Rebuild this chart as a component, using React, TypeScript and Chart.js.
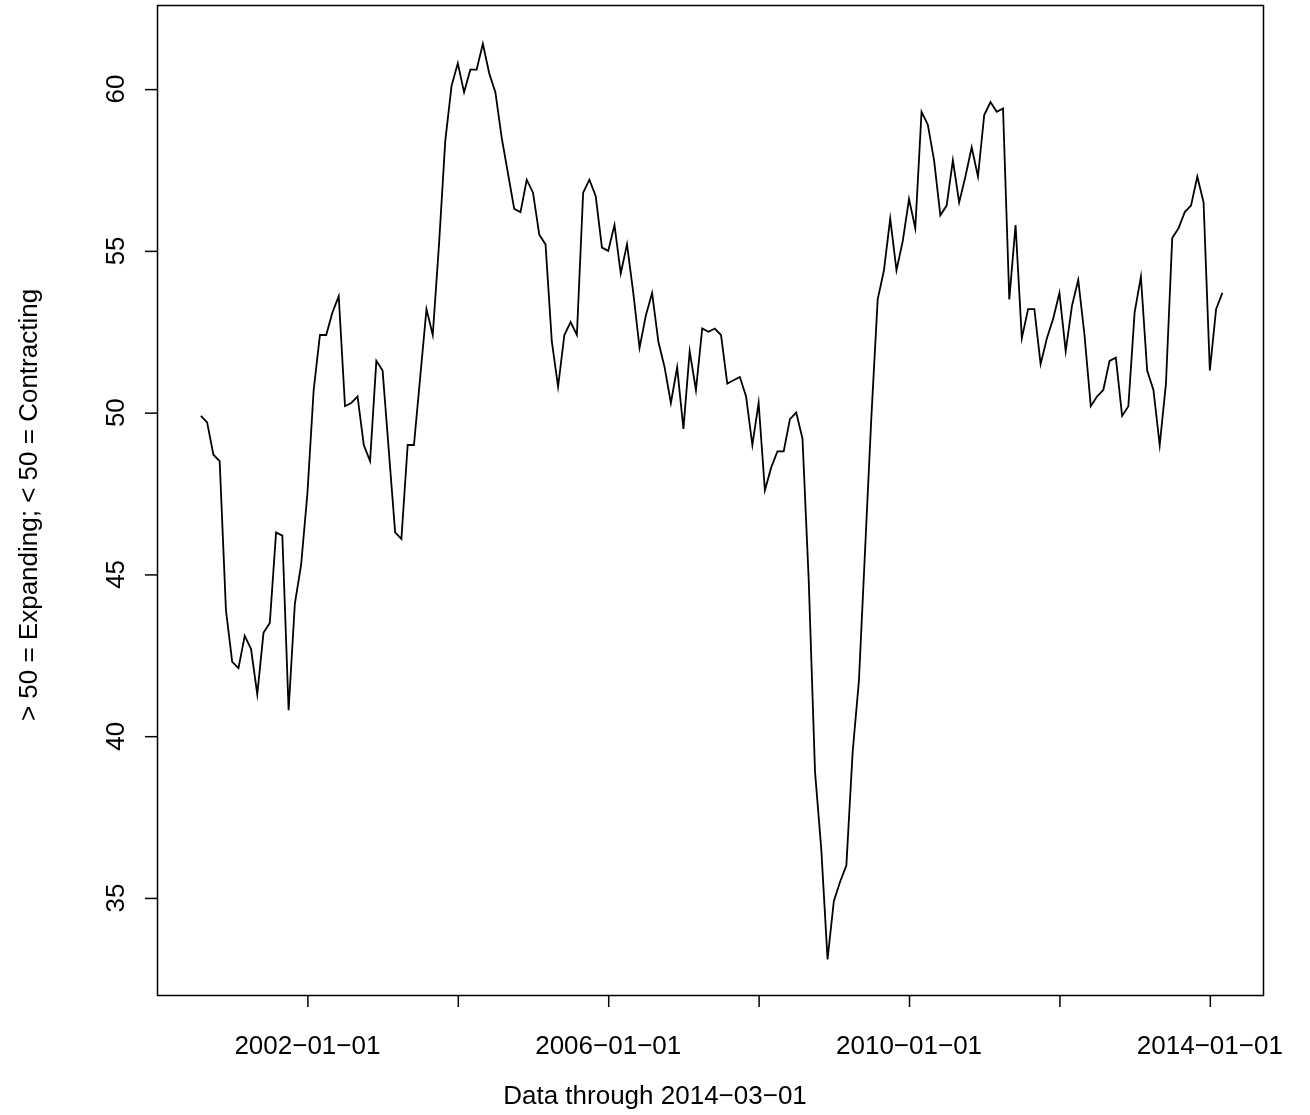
import { useEffect, useRef } from "react";
import { Chart, registerables } from "chart.js";

Chart.register(...registerables);

const startYear = 2000;
const startMonth = 7; // August (0-based)
const pmi = [
  49.9, 49.7, 48.7, 48.5, 43.9,
  42.3, 42.1, 43.1, 42.7, 41.3, 43.2, 43.5, 46.3, 46.2, 40.8, 44.1, 45.3,
  47.5, 50.7, 52.4, 52.4, 53.1, 53.6, 50.2, 50.3, 50.5, 49.0, 48.5, 51.6,
  51.3, 48.8, 46.3, 46.1, 49.0, 49.0, 51.1, 53.2, 52.4, 55.2, 58.4, 60.1,
  60.8, 59.9, 60.6, 60.6, 61.4, 60.5, 59.9, 58.5, 57.4, 56.3, 56.2, 57.2,
  56.8, 55.5, 55.2, 52.2, 50.8, 52.4, 52.8, 52.4, 56.8, 57.2, 56.7, 55.1,
  55.0, 55.8, 54.3, 55.2, 53.7, 52.0, 53.0, 53.7, 52.2, 51.4, 50.3, 51.4,
  49.5, 51.9, 50.7, 52.6, 52.5, 52.6, 52.4, 50.9, 51.0, 51.1, 50.5, 49.0,
  50.3, 47.6, 48.3, 48.8, 48.8, 49.8, 50.0, 49.2, 44.8, 38.9, 36.5, 33.1,
  34.9, 35.5, 36.0, 39.5, 41.7, 45.8, 49.9, 53.5, 54.4, 56.0, 54.4, 55.3,
  56.6, 55.7, 59.3, 58.9, 57.8, 56.1, 56.4, 57.8, 56.5, 57.3, 58.2, 57.3,
  59.2, 59.6, 59.3, 59.4, 53.5, 55.8, 52.3, 53.2, 53.2, 51.5, 52.3, 52.9,
  53.7, 51.9, 53.3, 54.1, 52.4, 50.2, 50.5, 50.7, 51.6, 51.7, 49.9, 50.2,
  53.1, 54.2, 51.3, 50.7, 49.0, 50.9, 55.4, 55.7, 56.2, 56.4, 57.3, 56.5,
  51.3, 53.2, 53.7,
];
const xTicks = [2002, 2004, 2006, 2008, 2010, 2012, 2014];
const xLabels = ["2002\u221201\u221201", "", "2006\u221201\u221201", "", "2010\u221201\u221201", "", "2014\u221201\u221201"];
const yTicks = [35, 40, 45, 50, 55, 60];
const xTitle = "Data through 2014\u221203\u221201";
const yTitle = "> 50 = Expanding; < 50 = Contracting";

const FONT = "26px 'Liberation Sans', Arial, sans-serif";

export default function App() {
  const ref = useRef<HTMLCanvasElement | null>(null);

  useEffect(() => {
    document.body.style.margin = "0";
    if (!ref.current) return;
    const points = pmi.map((v, i) => ({ x: startYear + (startMonth + i) / 12, y: v }));

    const rPlot = {
      id: "rPlot",
      afterDraw(chart: any) {
        const { ctx, chartArea: a, scales } = chart;
        ctx.save();
        ctx.strokeStyle = "#000";
        ctx.lineWidth = 1.5;
        ctx.strokeRect(a.left + 0.5, a.top + 0.5, a.right - a.left, a.bottom - a.top);
        ctx.font = FONT;
        ctx.fillStyle = "#000";
        ctx.textAlign = "center";
        ctx.textBaseline = "middle";
        xTicks.forEach((t, i) => {
          const x = scales.x.getPixelForValue(t);
          ctx.beginPath();
          ctx.moveTo(x + 0.5, a.bottom);
          ctx.lineTo(x + 0.5, a.bottom + 12);
          ctx.stroke();
          if (xLabels[i]) ctx.fillText(xLabels[i], x, 1047);
        });
        ctx.fillText(xTitle, 655, 1097);
        yTicks.forEach((t) => {
          const y = scales.y.getPixelForValue(t);
          ctx.beginPath();
          ctx.moveTo(a.left, y + 0.5);
          ctx.lineTo(a.left - 12, y + 0.5);
          ctx.stroke();
          ctx.save();
          ctx.translate(117, y);
          ctx.rotate(-Math.PI / 2);
          ctx.fillText(String(t), 0, 0);
          ctx.restore();
        });
        ctx.translate(30, 505);
        ctx.rotate(-Math.PI / 2);
        ctx.fillText(yTitle, 0, 0);
        ctx.restore();
      },
    };

    const chart = new Chart(ref.current, {
      type: "line",
      data: {
        datasets: [
          {
            data: points,
            borderColor: "#000",
            borderWidth: 1.8,
            pointRadius: 0,
            tension: 0,
            fill: false,
          },
        ],
      },
      options: {
        responsive: false,
        animation: false,
        layout: { padding: { top: 5, right: 47, left: 0, bottom: 0 } },
        plugins: { legend: { display: false }, tooltip: { enabled: false } },
        scales: {
          x: {
            type: "linear",
            min: 2000.0,
            max: 2014.707,
            ticks: { display: false },
            grid: { display: false },
            border: { display: false },
            afterFit: (s: any) => { s.height = 120; },
          },
          y: {
            min: 32.0,
            max: 62.6,
            ticks: { display: false },
            grid: { display: false },
            border: { display: false },
            afterFit: (s: any) => { s.width = 157; },
          },
        },
      },
      plugins: [rPlot],
    });

    return () => chart.destroy();
  }, []);

  return (
    <div style={{ width: 1310, height: 1115, background: "#fff" }}>
      <canvas ref={ref} width={1310} height={1115} />
    </div>
  );
}
